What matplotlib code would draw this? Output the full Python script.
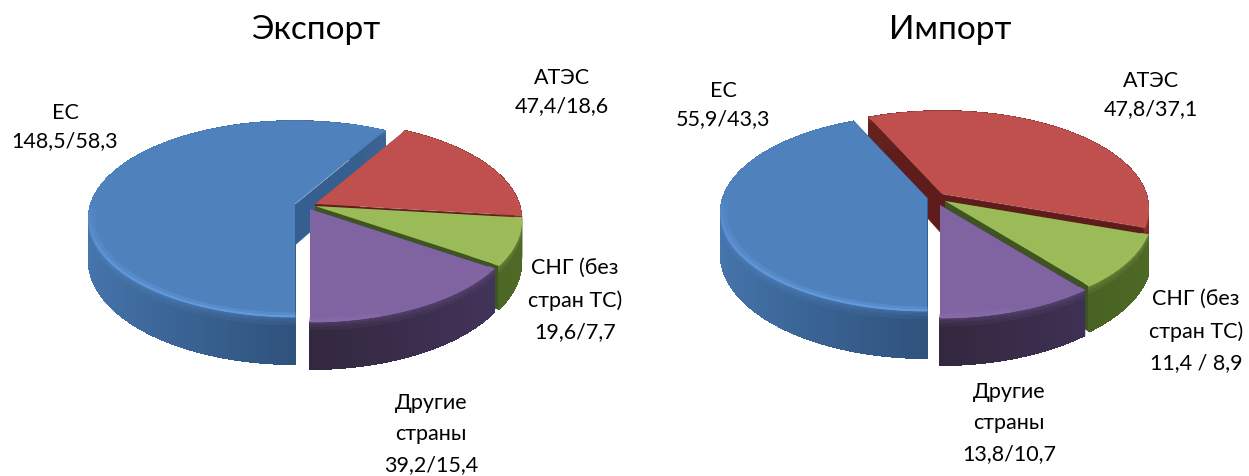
import numpy as np
import matplotlib
matplotlib.use("Agg")
import matplotlib.pyplot as plt
from matplotlib.collections import PolyCollection
from matplotlib.colors import to_rgb

plt.rcParams['font.family'] = ['Lato', 'Open Sans', 'DejaVu Sans']

# data
export_share = [58.3, 18.6, 7.7, 15.4]
import_share = [43.3, 37.1, 8.9, 10.7]
export_labels = ["ЕС\n148,5/58,3", "АТЭС\n47,4/18,6", "СНГ (без\nстран ТС)\n19,6/7,7", "Другие\nстраны\n39,2/15,4"]
import_labels = ["ЕС\n55,9/43,3", "АТЭС\n47,8/37,1", "СНГ (без\nстран ТС)\n11,4 / 8,9", "Другие\nстраны\n13,8/10,7"]
titles = ["Экспорт", "Импорт"]

# style / layout
top_cols = ['#4f81bd', '#c0504d', '#9bbb59', '#8064a2']
side_light = ['#4676ae', '#7a2a28', '#4f6a26', '#463660']
side_dark = ['#2f527c', '#5a1c1a', '#3f5520', '#33283f']
wall_cols = ['#355f91', '#5e1c1a', '#3f5520', '#3d2f55']
rim_cols = ['#659fe4', '#c75a56', '#a5c765', '#8a6cae']
P = 0.153
RX, RY, DEPTH = 204, 95.7, 47

apex_export = [(295, 205), (315, 205), (315, 207), (310, 210)]
apex_import = [(927, 199), (942, 195), (945, 202), (940, 206)]
order_export = [0, 1, 2, 3]
order_import = [1, 0, 2, 3]
label_pos_export = [(65, 127), (562, 92), (575, 300), (431, 434)]
label_pos_import = [(723, 105), (1151, 95), (1196, 331), (1009, 423)]
title_pos = [(316, 30), (950, 30)]

fig = plt.figure(figsize=(12.49, 4.77), dpi=100)
ax = fig.add_axes([0, 0, 1, 1])
ax.set_xlim(0, 1249)
ax.set_ylim(477, 0)
ax.axis('off')


def proj(apex, th, r=1.0):
    u = r * np.cos(th)
    v = r * np.sin(th)
    d = 1 + P * v
    return apex[0] + RX * u / d, apex[1] - RY * v / d, DEPTH * 0.85 / d


def lerp(a, b, t):
    a, b = np.array(to_rgb(a)), np.array(to_rgb(b))
    return tuple(np.clip(a + (b - a) * t, 0, 1))


def add_polys(polys, cols, aa=True):
    ax.add_collection(PolyCollection(polys, facecolors=cols, edgecolors=cols,
                                     linewidths=0.6, antialiaseds=aa))


def draw_slice(i, apex, a0, a1):
    th = np.radians(np.linspace(a0, a1, max(int(abs(a1 - a0)), 4) + 1))
    # radial walls
    for edge in (a0, a1):
        t = np.radians(edge)
        x0, y0, d0 = proj(apex, t, 0.0)
        x1, y1, d1 = proj(apex, t, 1.0)
        add_polys([[(x0, y0), (x1, y1), (x1, y1 + d1), (x0, y0 + d0)]], [wall_cols[i]])
    # outer side, shaded by facet and depth
    polys, cols = [], []
    levels = [0, .03, .07, .12, .2, 1.0]
    for a, b in zip(th[:-1], th[1:]):
        xa, ya, da = proj(apex, a)
        xb, yb, db = proj(apex, b)
        tone = 1 - abs(np.cos((a + b) / 2))
        band = lerp(side_light[i], side_dark[i], tone)
        for k in range(len(levels) - 1):
            f0, f1 = levels[k], levels[k + 1]
            polys.append([(xa, ya + da * f0), (xb, yb + db * f0), (xb, yb + db * f1), (xa, ya + da * f1)])
            cols.append(lerp(band, rim_cols[i], 0.35 * (1 - k / 4) if k < 4 else 0))
    add_polys(polys, cols, aa=False)
    # top face with a thin bevel along the rim
    outer = [proj(apex, t)[:2] for t in th]
    ax.fill(*zip(*([(apex[0], apex[1])] + outer)), color=top_cols[i], lw=0)
    polys, cols = [], []
    for r0, r1, mix in [(0.985, 1.0, 0.9), (0.97, 0.985, 0.4)]:
        for a, b in zip(th[:-1], th[1:]):
            polys.append([proj(apex, a, r0)[:2], proj(apex, b, r0)[:2], proj(apex, b, r1)[:2], proj(apex, a, r1)[:2]])
            front = max(0.0, -np.sin((a + b) / 2)) ** 0.5 if np.cos((a + b) / 2) < 0.3 else 0.2
            cols.append(lerp(top_cols[i], rim_cols[i], mix * front))
    add_polys(polys, cols)


def draw_pie(shares, apexes, order):
    # slices run clockwise from the front of the pie
    edges = -90 - 360 * np.cumsum([0] + list(shares)) / sum(shares)
    for i in order:
        draw_slice(i, apexes[i], edges[i], edges[i + 1])


draw_pie(export_share, apex_export, order_export)
draw_pie(import_share, apex_import, order_import)

FS = 15.5
for labs, pos in [(export_labels, label_pos_export), (import_labels, label_pos_import)]:
    for s, (x, y) in zip(labs, pos):
        ls = 1.7 if s.count("\n") == 2 else 1.5
        ax.text(x, y, s, ha='center', va='center', fontsize=FS, linespacing=ls, color='black')
for s, (x, y) in zip(titles, title_pos):
    ax.text(x, y, s, ha='center', va='center', fontsize=24, color='black')

fig.savefig('out.png', dpi=100)
